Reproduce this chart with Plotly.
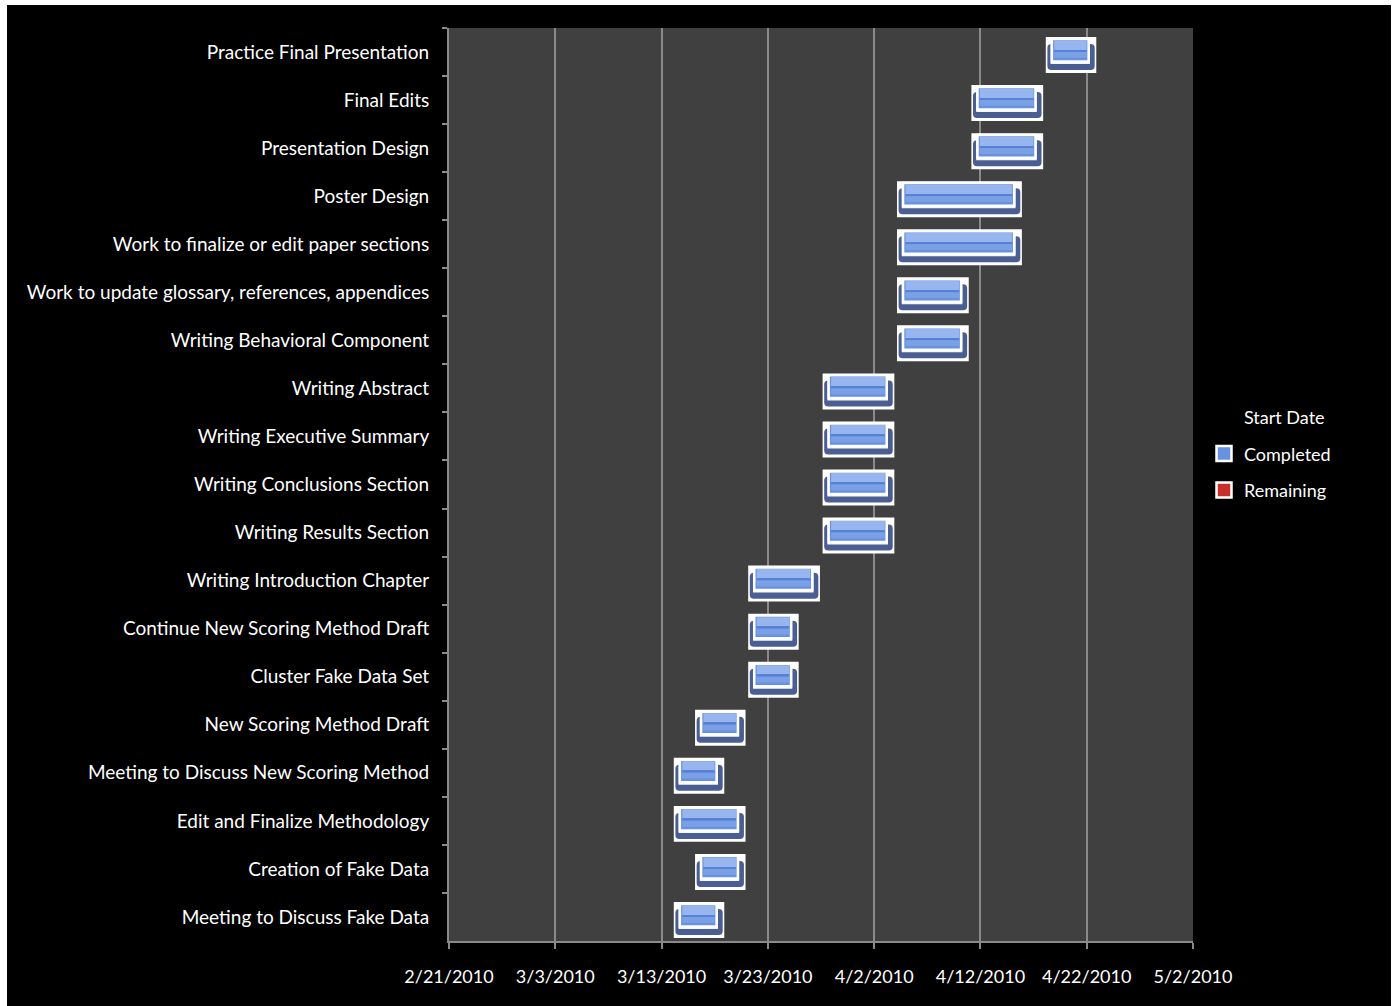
import plotly.graph_objects as go
import pandas as pd

# Project schedule (top row first)
tasks = [
    "Practice Final Presentation",
    "Final Edits",
    "Presentation Design",
    "Poster Design",
    "Work to finalize or edit paper sections",
    "Work to update glossary, references, appendices",
    "Writing Behavioral Component",
    "Writing Abstract",
    "Writing Executive Summary",
    "Writing Conclusions Section",
    "Writing Results Section",
    "Writing Introduction Chapter",
    "Continue New Scoring Method Draft",
    "Cluster Fake Data Set",
    "New Scoring Method Draft",
    "Meeting to Discuss New Scoring Method",
    "Edit and Finalize Methodology",
    "Creation of Fake Data",
    "Meeting to Discuss Fake Data",
]
start_dates = [
    "2010-04-18", "2010-04-11", "2010-04-11", "2010-04-04", "2010-04-04",
    "2010-04-04", "2010-04-04", "2010-03-28", "2010-03-28", "2010-03-28",
    "2010-03-28", "2010-03-21", "2010-03-21", "2010-03-21", "2010-03-16",
    "2010-03-14", "2010-03-14", "2010-03-16", "2010-03-14",
]
completed_days = [5, 7, 7, 12, 12, 7, 7, 7, 7, 7, 7, 7, 5, 5, 5, 5, 7, 5, 5]
remaining_days = [0, 0, 0, 0, 0, 0, 0, 0, 0, 0, 0, 0, 0, 0, 0, 0, 0, 0, 0]

axis_start = "2010-02-21"
axis_end = "2010-05-02"
tick_step_days = 10

DAY_MS = 86400000
FONT = "Lato"
BLUE = "#6892e0"
RED = "#c9302c"

starts = pd.to_datetime(start_dates)
t0 = pd.Timestamp(axis_start)


def shifted(days):
    return [(s + pd.Timedelta(days=days)).strftime("%Y-%m-%d %H:%M:%S") for s in starts]


def layer(left_inset, right_inset, offset, width, color, radius=0, line=None):
    """One horizontal slab of the bar artwork, inset in days from each end."""
    length = [(d - left_inset - right_inset) * DAY_MS for d in completed_days]
    return go.Bar(
        y=tasks, x=length, base=shifted(left_inset), orientation="h",
        offset=offset, width=width,
        marker=dict(color=color, line=line or dict(width=0), cornerradius=radius),
        showlegend=False, hoverinfo="skip",
    )


fig = go.Figure()

# invisible lead-in series (start offsets)
fig.add_trace(go.Bar(
    y=tasks, x=[(s - t0).days * DAY_MS for s in starts], base=[axis_start] * len(tasks),
    orientation="h", name="Start Date", offset=-0.312, width=0.749,
    marker=dict(color="rgba(0,0,0,0)", line=dict(width=0)),
    legendgroup="start", legendrank=1, hoverinfo="skip",
))

# completed work, drawn as a layered tile
fig.add_trace(layer(0.15, 0.1, -0.312, 0.749, "#ffffff"))                 # white card
fig.add_trace(layer(0.3, 0.25, -0.166, 0.541, "#4a5e92", radius=4))       # drop shadow
fig.add_trace(layer(0.6, 0.7, -0.291, 0.541, "#f4f7fd"))                  # white frame
fig.add_trace(layer(0.72, 0.82, -0.272, 0.47, BLUE,
                    line=dict(color="#ffffff", width=2.5)))               # blue face
fig.add_trace(layer(0.95, 1.0, -0.24, 0.2, "#97b5ee"))                    # top highlight
fig.add_trace(layer(0.95, 1.0, -0.04, 0.04, "#5881d4"))                   # middle seam
fig.add_trace(layer(0.95, 1.0, 0.0, 0.12, "#7aa0e6"))                     # lower band

# remaining work (none left)
fig.add_trace(go.Bar(
    y=tasks, x=[d * DAY_MS for d in remaining_days],
    base=[(s + pd.Timedelta(days=c)).strftime("%Y-%m-%d") for s, c in zip(starts, completed_days)],
    orientation="h", offset=-0.272, width=0.47,
    marker=dict(color=RED, line=dict(width=0)),
    showlegend=False, hoverinfo="skip",
))

# legend keys
for name, color, rank in [("Completed", BLUE, 2), ("Remaining", RED, 3)]:
    fig.add_trace(go.Scatter(
        x=[None], y=[None], mode="markers", name=name,
        legendgroup=name, legendrank=rank,
        marker=dict(symbol="square", size=15, color=color,
                    line=dict(color="#ffffff", width=2.5)),
    ))

W, H = 1396, 1006
ML, MR, MT, MB = 449, 203, 28, 65
pw, ph = W - ML - MR, H - MT - MB


def px_x(p):
    return (p - ML) / pw


def px_y(p):
    return (H - MB - p) / ph


# white edge strips around the black page
for x0, y0, x1, y1 in [(0, 0, 7, H), (0, 0, W, 5), (1391, 0, W, H)]:
    fig.add_shape(type="rect", xref="paper", yref="paper",
                  x0=px_x(x0), x1=px_x(x1), y0=px_y(y1), y1=px_y(y0),
                  fillcolor="#ffffff", line=dict(width=0), layer="above")

fig.update_layout(
    width=W, height=H,
    margin=dict(l=ML, r=MR, t=MT, b=MB),
    paper_bgcolor="#000000",
    plot_bgcolor="#404040",
    barmode="overlay",
    font=dict(family=FONT, color="#ffffff", size=18),
    legend=dict(
        x=px_x(1204), y=px_y(399), xanchor="left", yanchor="top",
        font=dict(size=18, color="#ffffff"), bgcolor="rgba(0,0,0,0)",
        itemsizing="trace", traceorder="grouped", tracegroupgap=10,
        itemclick=False,
    ),
    xaxis=dict(
        type="date", range=[axis_start, axis_end],
        tick0=axis_start, dtick=tick_step_days * DAY_MS, tickformat="%-m/%-d/%Y",
        showgrid=True, gridcolor="#8a8a8a", gridwidth=1.5,
        showline=True, linecolor="#8a8a8a", linewidth=2,
        ticks="outside", ticklen=6, tickcolor="#8a8a8a", tickwidth=2,
        ticklabelstandoff=12, tickfont=dict(size=18, color="#ffffff"),
        zeroline=False,
    ),
    yaxis=dict(
        type="category", autorange="reversed",
        showgrid=False, showline=True, linecolor="#8a8a8a", linewidth=2,
        ticks="outside", ticklen=5, tickcolor="#8a8a8a", tickwidth=2,
        tickson="boundaries", ticklabelstandoff=14,
        tickfont=dict(size=19, color="#ffffff"),
    ),
)

fig.write_html("out.html")
